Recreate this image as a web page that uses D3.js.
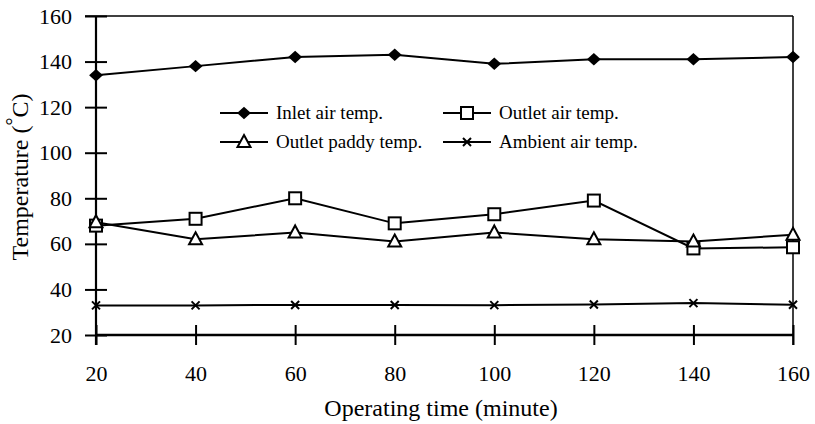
<!DOCTYPE html>
<html>
<head>
<meta charset="utf-8">
<script src="https://cdn.jsdelivr.net/npm/d3@7"></script>
<style>
  body { margin: 0; background: #fff; }
  text { font-family: "Liberation Serif", "Times New Roman", serif; fill: #000; }
</style>
</head>
<body>
<svg id="chart" width="815" height="424"></svg>
<script>
var times = [20, 40, 60, 80, 100, 120, 140, 160];
var inletAir = [134, 138, 142, 143, 139, 141, 141, 142];
var outletAir = [68, 71, 80, 69, 73, 79, 58, 58.5];
var outletPaddy = [69.5, 62, 65, 61, 65, 62, 61, 64];
var ambientAir = [33, 33, 33.2, 33.2, 33.1, 33.4, 34, 33.3];
var xTicks = [20, 40, 60, 80, 100, 120, 140, 160];
var yTicks = [20, 40, 60, 80, 100, 120, 140, 160];

var series = [
  {name: "Inlet air temp.", values: inletAir, marker: "diamond"},
  {name: "Outlet air temp.", values: outletAir, marker: "square"},
  {name: "Outlet paddy temp.", values: outletPaddy, marker: "triangle"},
  {name: "Ambient air temp.", values: ambientAir, marker: "cross"}
];

var svg = d3.select("#chart");

var x = d3.scaleLinear().domain([20, 160]).range([96, 793]);
var y = d3.scaleLinear().domain([20, 160]).range([335, 16]);

// frame: top and right lines (thin)
svg.append("line").attr("x1", 85).attr("x2", x(160)).attr("y1", y(160)).attr("y2", y(160))
    .attr("stroke", "#000").attr("stroke-width", 1.5);
svg.append("line").attr("x1", x(160)).attr("x2", x(160)).attr("y1", y(160)).attr("y2", y(20) + 10)
    .attr("stroke", "#000").attr("stroke-width", 1.5);

// y axis
var yAxis = svg.append("g")
    .attr("transform", "translate(" + x(20) + ",0)")
    .call(d3.axisLeft(y).tickValues(yTicks).tickSize(11).tickPadding(13).tickSizeOuter(0));
yAxis.select(".domain").remove();
yAxis.selectAll(".tick line").attr("x1", 11).attr("stroke-width", 2);
yAxis.selectAll(".tick text").attr("font-size", 22).attr("font-family", "Liberation Serif");
svg.append("line").attr("x1", x(20)).attr("x2", x(20)).attr("y1", y(160)).attr("y2", y(20) + 10)
    .attr("stroke", "#000").attr("stroke-width", 2.2);

// x axis
var xAxis = svg.append("g")
    .attr("transform", "translate(0," + y(20) + ")")
    .call(d3.axisBottom(x).tickValues(xTicks).tickSize(10).tickPadding(20).tickSizeOuter(0));
xAxis.select(".domain").remove();
xAxis.selectAll(".tick line").attr("y1", -10).attr("stroke-width", 2);
xAxis.selectAll(".tick text").attr("font-size", 22).attr("font-family", "Liberation Serif");
svg.append("line").attr("x1", x(20)).attr("x2", x(160)).attr("y1", y(20)).attr("y2", y(20))
    .attr("stroke", "#000").attr("stroke-width", 2.6);

// axis titles
svg.append("text").attr("x", 441).attr("y", 416)
    .attr("text-anchor", "middle").attr("font-size", 24).text("Operating time (minute)");
var yt = svg.append("text").attr("transform", "translate(28,177) rotate(-90)")
    .attr("text-anchor", "middle").attr("font-size", 24);
yt.append("tspan").text("Temperature (");
yt.append("tspan").attr("dy", -8).attr("font-size", 20).text("°");
yt.append("tspan").attr("dy", 8).text("C)");

function drawMarker(g, type) {
  if (type === "diamond") {
    g.append("path").attr("d", d3.symbol().type(d3.symbolDiamond2).size(110)())
        .attr("fill", "#000").attr("transform", "scale(1.05,0.95)");
  } else if (type === "square") {
    g.append("rect").attr("x", -6).attr("y", -6).attr("width", 12).attr("height", 12)
        .attr("fill", "#fff").attr("stroke", "#000").attr("stroke-width", 2);
  } else if (type === "triangle") {
    g.append("path").attr("d", "M0,-7L6.5,5L-6.5,5Z")
        .attr("fill", "#fff").attr("stroke", "#000").attr("stroke-width", 2);
  } else {
    g.append("path").attr("d", "M-4,-4L4,4M-4,4L4,-4")
        .attr("fill", "none").attr("stroke", "#000").attr("stroke-width", 2);
  }
}

var line = d3.line()
    .x(function(d, i) { return x(times[i]); })
    .y(function(d) { return y(d); });

series.forEach(function(s) {
  svg.append("path").datum(s.values).attr("d", line)
      .attr("fill", "none").attr("stroke", "#000").attr("stroke-width", 2);
});
series.forEach(function(s) {
  s.values.forEach(function(v, i) {
    var g = svg.append("g").attr("transform", "translate(" + x(times[i]) + "," + y(v) + ")");
    drawMarker(g, s.marker);
  });
});

// legend
var legendPos = [[220, 113], [443, 113], [220, 142], [443, 142]];
series.forEach(function(s, i) {
  var lx = legendPos[i][0], ly = legendPos[i][1];
  svg.append("line").attr("x1", lx).attr("x2", lx + 48).attr("y1", ly).attr("y2", ly)
      .attr("stroke", "#000").attr("stroke-width", 2);
  var g = svg.append("g").attr("transform", "translate(" + (lx + 24) + "," + ly + ")");
  drawMarker(g, s.marker);
  svg.append("text").attr("x", lx + 56).attr("y", ly + 6).attr("font-size", 19).text(s.name);
});
</script>
</body>
</html>
